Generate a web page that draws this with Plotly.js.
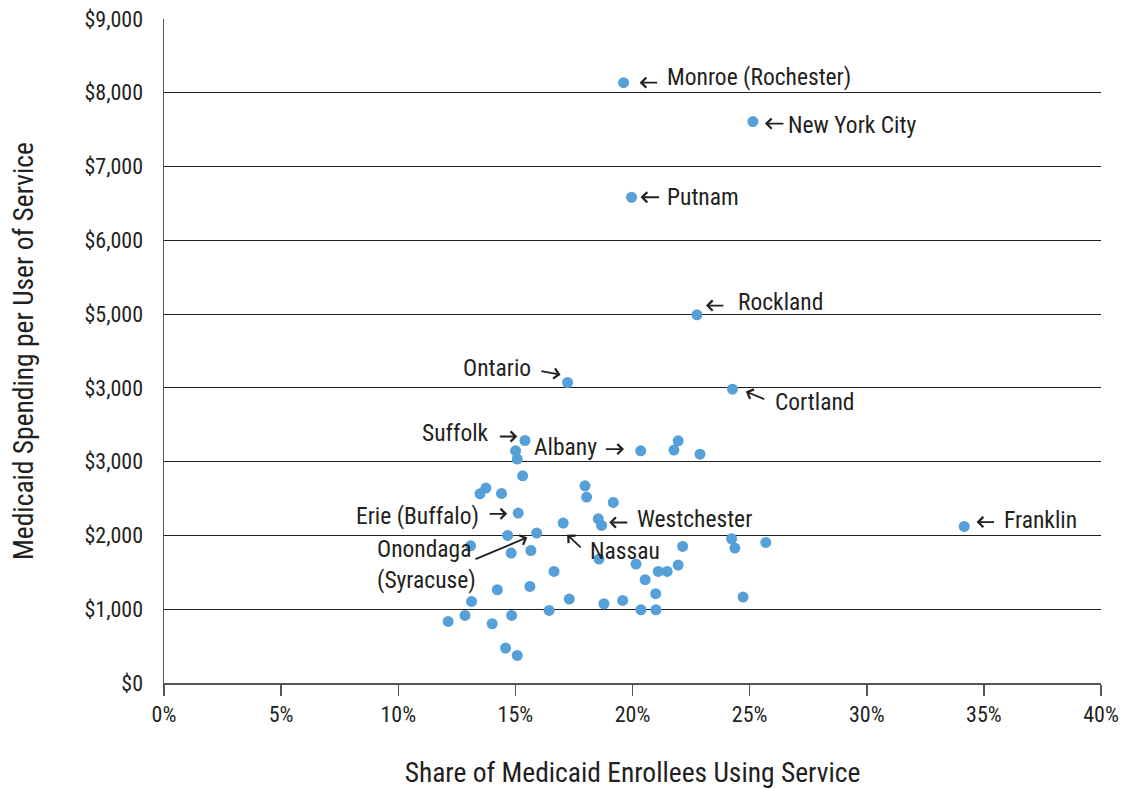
<!DOCTYPE html>
<html>
<head>
<meta charset="utf-8">
<script src="https://cdn.plot.ly/plotly-3.0.1.min.js"></script>
<style>html,body{margin:0;padding:0;background:#fff;}#chart{width:1141px;height:789px;}</style>
</head>
<body>
<div id="chart"></div>
<script>
// ---- Data ----
const labeledNames = ["Monroe (Rochester)", "New York City", "Putnam", "Rockland", "Ontario", "Cortland",
  "Suffolk", "Albany", "Erie (Buffalo)", "Westchester", "Nassau", "Onondaga<br>(Syracuse)", "Franklin"];
const labeledShare = [19.62, 25.14, 19.96, 22.75, 17.23, 24.27, 15.41, 20.35, 15.12, 18.68, 17.04, 15.91, 34.16];
const labeledSpend = [8137, 7609, 6584, 4990, 4073, 3983, 3287, 3147, 2303, 2135, 2168, 2032, 2122];

const otherShare = [15.01, 15.08, 15.31, 21.95, 21.77, 22.88, 13.74, 13.49, 14.41, 17.97, 18.04, 19.18, 18.54,
  14.67, 13.09, 14.82, 15.66, 18.57, 16.65, 20.15, 20.54, 21.10, 21.48, 21.95, 22.14, 24.23, 24.37, 25.69,
  24.72, 14.23, 15.62, 13.13, 17.30, 18.78, 19.58, 20.99, 16.44, 20.36, 21.00, 12.13, 12.85, 14.01, 14.84,
  14.58, 15.08];
const otherSpend = [3147, 3035, 2808, 3283, 3157, 3102, 2642, 2565, 2569, 2673, 2520, 2447, 2226,
  2000, 1860, 1761, 1796, 1680, 1512, 1612, 1400, 1512, 1512, 1599, 1851, 1955, 1829, 1905,
  1165, 1264, 1309, 1106, 1138, 1074, 1119, 1210, 984, 993, 993, 835, 916, 803, 916,
  474, 374];

const xTickVals = [0, 5, 10, 15, 20, 25, 30, 35, 40];
const xTickLabels = ["0%", "5%", "10%", "15%", "20%", "25%", "30%", "35%", "40%"];
const yTickVals = [0, 1000, 2000, 3000, 4000, 5000, 6000, 7000, 8000, 9000];
const yTickLabels = ["$0", "$1,000", "$2,000", "$3,000", "$3,000", "$5,000", "$6,000", "$7,000", "$8,000", "$9,000"];

// ---- Label placement (pixel offsets from each labeled point) ----
// text: [xanchor, xshift, yshift]; arrow: [tipShiftX, tipShiftY(up+), tailDX, tailDY(down+)]
const labelStyle = [
  {t: ["left", 41, 6],    a: [16, 0, 19, 0]},
  {t: ["left", 33, -3],   a: [12, -2, 20, 0]},
  {t: ["left", 33, 0.5],  a: [9, 0, 20, 0]},
  {t: ["left", 39, 12.5], a: [9, 9.3, 19, 0]},
  {t: ["right", -35, 14.4], a: [-7, 7.7, -20.7, -4]},
  {t: ["left", 40, -12.4], a: [13.3, -2.4, 20, 8.3]},
  {t: ["right", -34.3, 7.4], a: [-7.7, 4, -19, 0]},
  {t: ["right", -41.4, 4.3], a: [-16.7, 1.7, -19.7, 0]},
  {t: ["right", -37.6, -3.4], a: [-11, -0.7, -19, 0]},
  {t: ["left", 33.3, 6.7], a: [7.6, 3, 19.7, 0]},
  {t: ["left", 25, -28.4], a: [4, -11.7, 15, 14]},
  {t: ["left", -161.7, -31], a: [-9.4, -4.4, -53.3, 22.3]},
  {t: ["left", 37.4, 6.7], a: [12.4, 4.4, 19, 0]}
];

const FONT = "'Liberation Sans Narrow', 'Arial Narrow', 'Roboto Condensed', 'DejaVu Sans Condensed', sans-serif";
const TXT = "#231f20";

const annotations = [];
labeledNames.forEach((name, i) => {
  const s = labelStyle[i];
  annotations.push({
    x: labeledShare[i], y: labeledSpend[i], xref: "x", yref: "y",
    text: name, showarrow: false, align: "left",
    xanchor: s.t[0], yanchor: "middle", xshift: s.t[1], yshift: s.t[2],
    font: {family: FONT, size: 23.5, color: TXT}
  });
  annotations.push({
    x: labeledShare[i], y: labeledSpend[i], xref: "x", yref: "y",
    text: "", showarrow: true, arrowhead: 4, arrowsize: 1.1, arrowwidth: 1.8, arrowcolor: TXT,
    standoff: 0, startstandoff: 0,
    xshift: s.a[0], yshift: s.a[1], ax: s.a[2], ay: s.a[3],
    font: {size: 1}
  });
});

const trace = {
  type: "scatter", mode: "markers",
  x: labeledShare.concat(otherShare),
  y: labeledSpend.concat(otherSpend),
  marker: {color: "#55a0d8", size: 11, line: {width: 0}},
  hoverinfo: "skip", cliponaxis: false
};

const layout = {
  width: 1141, height: 789,
  margin: {l: 164, r: 40, t: 19, b: 106},
  paper_bgcolor: "#fff", plot_bgcolor: "#fff",
  showlegend: false,
  font: {family: FONT, color: TXT},
  xaxis: {
    range: [0, 40], tickmode: "array", tickvals: xTickVals, ticktext: xTickLabels,
    ticks: "outside", ticklen: 11, tickwidth: 1.5, tickcolor: "#555",
    showline: true, linecolor: "#555", linewidth: 1.5,
    showgrid: false, zeroline: false, ticklabelstandoff: 0,
    tickfont: {family: FONT, size: 22, color: TXT},
    title: {text: "Share of Medicaid Enrollees Using Service", font: {family: FONT, size: 27.5, color: TXT}, standoff: 37}
  },
  yaxis: {
    range: [0, 9000], tickmode: "array", tickvals: yTickVals, ticktext: yTickLabels,
    ticks: "", showline: true, linecolor: "#555", linewidth: 1.5,
    showgrid: true, gridcolor: TXT, gridwidth: 1, zeroline: false,
    ticklabelstandoff: 15,
    tickfont: {family: FONT, size: 22, color: TXT},
    title: {text: "Medicaid Spending per User of Service", font: {family: FONT, size: 27.5, color: TXT}, standoff: 43}
  },
  annotations: annotations
};

Plotly.newPlot("chart", [trace], layout, {staticPlot: true, displayModeBar: false});
</script>
</body>
</html>
